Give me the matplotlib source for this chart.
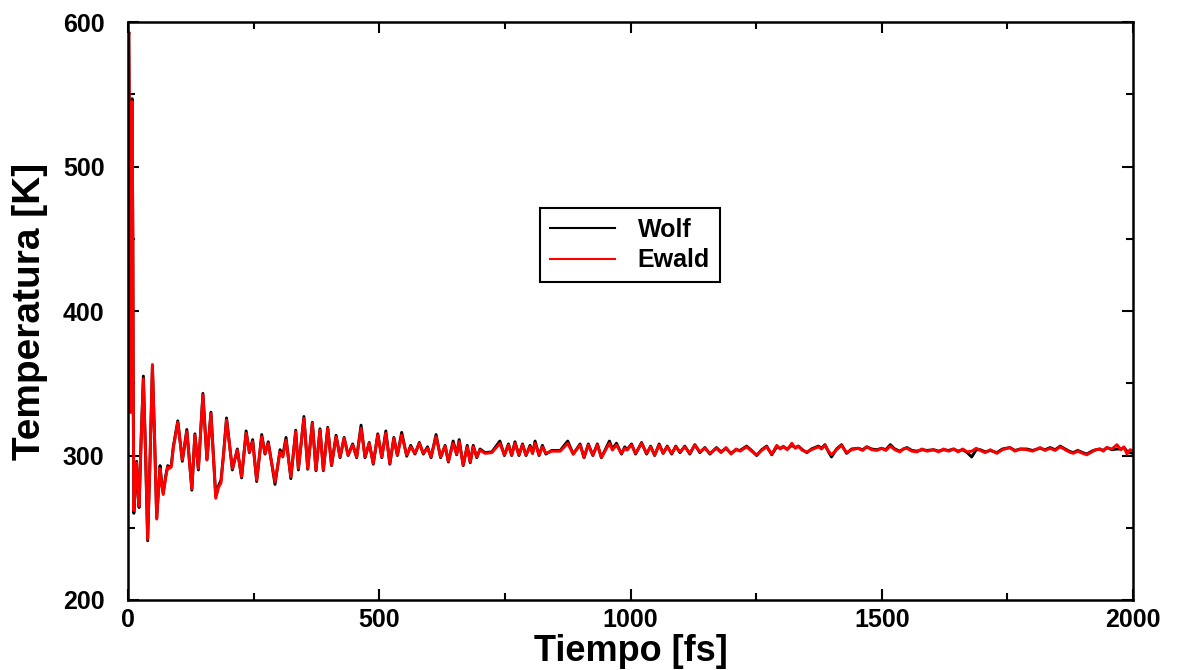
import matplotlib
matplotlib.use("Agg")
import matplotlib.pyplot as plt
from matplotlib.ticker import MultipleLocator

plt.rcParams['font.family'] = ['Liberation Sans', 'DejaVu Sans']
plt.rcParams['font.weight'] = 'bold'

# Datos
tiempo = [
    0, 1.5, 3, 4.5, 5.5, 6.5, 8, 9.5, 10.5, 11.5,
    14, 17, 20, 22, 26, 30.5, 35, 39, 44, 48.5,
    53, 57, 60.5, 63.7, 67, 70, 75, 79, 82, 86,
    90, 99, 108, 117, 127, 133, 140, 149, 157, 165,
    174.5, 180, 185, 190, 196, 207.6, 217.5, 226, 235, 241.5,
    248, 256, 266, 272.6, 279, 292.5, 302.5, 308, 314.4, 324,
    333.7, 339, 350, 357.6, 366.8, 374, 382, 388.7, 397.4, 405,
    414, 422, 430, 438, 447, 455, 463.7, 471.6, 480, 488,
    497, 505, 513, 521, 529, 536, 544.6, 554.6, 562.5, 571,
    579.7, 587.7, 596, 603, 613, 622, 631, 637.5, 647, 654,
    659, 667, 675, 681, 687, 694, 700.5, 710.5, 724, 740,
    749, 757, 763.5, 770, 778, 785, 792, 800, 805, 810,
    818, 824.6, 831.6, 843, 860, 875, 886, 899.6, 907.5, 916,
    925, 934, 942, 958, 964, 972, 982, 988.5, 993, 1002,
    1010, 1022, 1032, 1040, 1048, 1057, 1065, 1073, 1082, 1090,
    1098.5, 1108, 1118, 1128, 1138, 1148, 1158, 1171, 1180, 1190,
    1200, 1210, 1218, 1231, 1241, 1251, 1261, 1271, 1281, 1291,
    1298, 1304, 1312, 1321, 1328, 1334, 1342, 1351, 1360, 1374,
    1380, 1387, 1394, 1400, 1410, 1420, 1430, 1440, 1453, 1462,
    1470, 1480, 1490, 1500, 1508, 1517, 1526, 1536, 1543, 1550,
    1560, 1570, 1580, 1590, 1603, 1613, 1623, 1633, 1643, 1652,
    1661, 1670, 1679, 1688, 1696, 1706, 1716, 1729, 1740, 1755,
    1765, 1776, 1789, 1800, 1815, 1825, 1835, 1845, 1855, 1865,
    1873, 1881, 1890, 1900, 1908, 1918, 1926, 1934, 1941, 1948,
    1958, 1968, 1976, 1982, 1988, 1994, 2000,
]

temp_ewald = [
    585, 593, 500, 370, 330, 400, 545, 450, 330, 262,
    280, 295, 272, 265, 310, 353, 300, 242, 300, 363,
    310, 256, 275, 291, 280, 273, 285, 292, 291, 292,
    305, 323, 297, 316.5, 277, 314, 291, 342, 297, 329,
    270.4, 278, 281, 300, 324.6, 291, 303.8, 285.3, 315.4, 302.6,
    309.6, 283, 313, 301.5, 308.4, 281.9, 302.6, 299, 310.7, 285.3,
    316.5, 291, 325.7, 291, 322.3, 290, 317.6, 290, 318.8, 293.4,
    313, 299, 311.9, 300.3, 307.3, 299, 318.8, 299, 308.4, 294.6,
    314.2, 299, 315.4, 294.6, 311.9, 300.3, 314.2, 300.3, 306.1, 301.5,
    308.4, 301.5, 305, 299, 313, 299, 306.5, 296, 308.4, 301,
    309.6, 293.4, 306, 295.5, 306, 299, 303.8, 301.5, 302, 308.4,
    300.3, 307.3, 300.3, 308.4, 300.3, 307.3, 300.3, 306, 301.5, 308.4,
    300.3, 306, 301.5, 303, 303, 308.4, 301, 307.3, 298.7, 307.3,
    300.3, 307.3, 298.7, 308.4, 303.8, 307.3, 301.5, 305, 303.8, 307.3,
    301.5, 308.4, 301.5, 306, 300.3, 307.3, 301.5, 306, 301.5, 306,
    302.6, 306, 301.5, 307.3, 302.6, 305, 301.5, 305, 302, 305.5,
    301, 304.5, 303, 306, 303, 300.5, 303.5, 306, 301, 307,
    304.5, 306.5, 304, 308.5, 305, 306.5, 303.5, 302.5, 304, 306,
    304.5, 307, 303, 300.5, 304, 307, 302, 304, 305, 303.5,
    306, 304, 303.5, 305, 303.5, 306.5, 304, 302.5, 304.5, 305,
    303, 302.5, 304.5, 303, 304, 302.5, 304.5, 303, 304.5, 302.5,
    304.5, 302.5, 303, 305, 303.5, 302, 304, 301.5, 304, 305.5,
    303, 304.5, 304, 303, 305.5, 303.5, 305, 303.5, 306, 304,
    302.5, 301.5, 303, 301.5, 300.5, 302.5, 304, 304.5, 303, 305.5,
    304.5, 307.5, 304, 306, 301, 304, 303.5,
]

temp_wolf = [
    585, 593, 502, 372, 330, 402, 547, 452, 332, 260,
    279, 296, 271, 264, 311, 355, 299, 241, 301, 362,
    309, 257, 276, 293, 281, 274, 286, 293, 292, 293,
    306, 324, 296, 318, 276, 315, 290, 343, 297, 330,
    272, 279, 283, 301, 326, 290, 304.5, 284.5, 317, 302,
    311, 282, 314.5, 301, 309.5, 280, 304, 300, 312.5, 284,
    317.5, 290, 327, 290.5, 323, 289.5, 318.5, 289.5, 319.5, 293,
    314, 298.5, 312.5, 300, 308, 298.5, 321, 298.5, 309, 294,
    315, 298.5, 317, 294, 312.5, 300, 316, 299.5, 307, 301,
    309, 301, 306, 298.5, 314.5, 298.5, 307, 295.5, 310, 300.5,
    311, 293, 307, 295, 307, 298.5, 304.5, 302, 302.5, 310,
    300, 308, 300, 309.5, 300, 308, 300, 307, 301.5, 310,
    300, 307, 301, 303.5, 303.5, 310, 301, 308, 298.5, 308,
    300, 308, 298.5, 310, 304.5, 308.5, 301, 306, 304, 308,
    301, 309, 301, 306.5, 300, 308, 301.5, 306.5, 301, 306.5,
    302, 306.5, 301, 307.5, 302, 305.5, 301, 305.5, 302.5, 305,
    301.5, 304, 303.5, 306.5, 303.5, 300, 304, 306.5, 300.5, 306,
    305, 306, 304.5, 307, 305.5, 306.5, 304, 302, 304.5, 306.5,
    305, 307.5, 302.5, 299, 304.5, 307.5, 301.5, 304.5, 305, 304,
    306, 304.5, 304, 305, 304, 307.5, 304.5, 303, 304.5, 305.5,
    303.5, 303, 304, 303.5, 304, 303, 304, 303.5, 304.5, 303,
    304, 302, 299, 304, 304, 302.5, 303.5, 302, 304.5, 305.5,
    303.5, 304.5, 304.5, 303.5, 305, 304, 305.5, 304, 306.5, 304.5,
    303, 302, 303.5, 302, 301, 303, 304, 304.5, 303.5, 305.5,
    304, 304.5, 304.5, 305.5, 303, 302, 301.5,
]

fig = plt.figure(figsize=(11.78, 6.70), dpi=100)
ax = fig.add_axes([0.1087, 0.1045, 0.8531, 0.8625])

ax.plot(tiempo, temp_wolf, color='black', lw=2.1, label='Wolf')
ax.plot(tiempo, temp_ewald, color='red', lw=2.1, label='Ewald')

ax.set_xlim(0, 2000)
ax.set_ylim(200, 600)
ax.xaxis.set_major_locator(MultipleLocator(500))
ax.xaxis.set_minor_locator(MultipleLocator(250))
ax.yaxis.set_major_locator(MultipleLocator(100))
ax.yaxis.set_minor_locator(MultipleLocator(50))
ax.tick_params(which='both', direction='in', top=True, right=True, width=1.5)
ax.tick_params(which='major', length=8, labelsize=18)
ax.tick_params(which='minor', length=5)
ax.tick_params(axis='x', pad=6)
ax.tick_params(axis='y', pad=17)
for lab in ax.get_xticklabels() + ax.get_yticklabels():
    lab.set_fontweight('bold')
for s in ax.spines.values():
    s.set_linewidth(1.8)

ax.set_xlabel('Tiempo [fs]', fontsize=26, fontweight='bold')
ax.set_ylabel('Temperatura [K]', fontsize=28, fontweight='bold')
ax.xaxis.set_label_coords(0.5, -0.058)
ax.yaxis.set_label_coords(-0.08, 0.5)

leg = ax.legend(loc='upper left', bbox_to_anchor=(0.41, 0.678), borderaxespad=0,
                fancybox=False, edgecolor='black', framealpha=1,
                prop={'size': 18, 'weight': 'bold'}, handlelength=2.6,
                handletextpad=0.9, borderpad=0.4, labelspacing=0.25)
leg.get_frame().set_linewidth(1.5)
for h in leg.get_lines():
    h.set_linewidth(1.5)

fig.savefig('out.png', dpi=100)
